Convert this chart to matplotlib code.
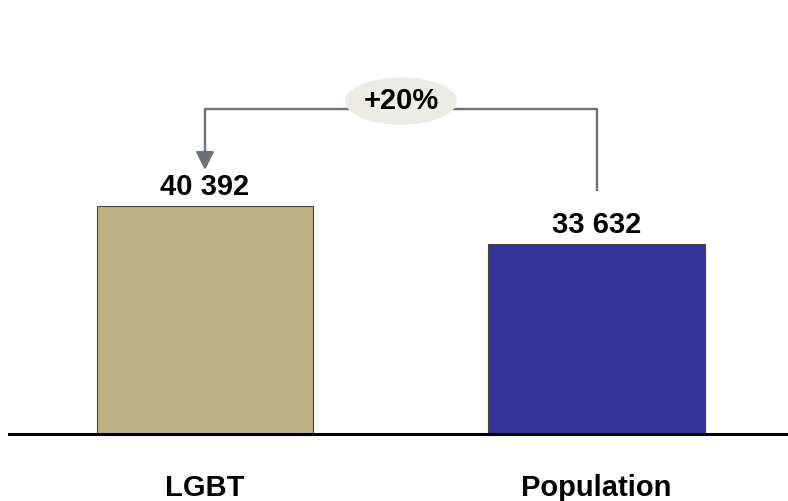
import matplotlib.pyplot as plt
from matplotlib.patches import Ellipse

categories = ['LGBT', 'Population']
values = [40392, 33632]
bar_colors = ['#BDB283', '#333399']
change_label = '+20%'

plt.rcParams['font.family'] = ['Liberation Sans', 'DejaVu Sans']

fig = plt.figure(figsize=(7.88, 5.01), dpi=100)
ax = fig.add_axes([9 / 788, 67 / 501, 1 - 9 / 788, 434 / 501])

x = list(range(len(categories)))
ax.bar(x, values, width=0.552, color=bar_colors, edgecolor='#444444', linewidth=0.8, zorder=2)

ax.set_xlim(-0.5006, 1.489)
ax.set_ylim(0, 76900)

for s in ['top', 'right', 'left']:
    ax.spines[s].set_visible(False)
ax.spines['bottom'].set_linewidth(2.2)
ax.spines['bottom'].set_zorder(3)
ax.set_yticks([])
ax.set_xticks([])

# value labels and category labels
for xi, v, c in zip(x, values, categories):
    ax.annotate(f'{v:,}'.replace(',', ' '), xy=(xi, v), xytext=(0, 8), textcoords='offset points',
                ha='center', va='baseline', fontsize=21, fontweight='bold')
    ax.annotate(c, xy=(xi, 0), xytext=(0, -44.6), textcoords='offset points',
                ha='center', va='baseline', fontsize=21, fontweight='bold', annotation_clip=False)

# bracket with arrow
line_c = '#6B7079'
top_y = 57600
tip_y = 46770
end_y = 43050
ax.plot([x[1], x[1], x[0]], [end_y, top_y, top_y], color=line_c, lw=1.7, zorder=1, solid_capstyle='butt')
ax.annotate('', xy=(x[0], tip_y), xytext=(x[0], top_y),
            arrowprops=dict(arrowstyle='-|>,head_length=1.1,head_width=0.55', color=line_c, lw=1.7,
                            shrinkA=0, shrinkB=0, mutation_scale=10))

ax.add_patch(Ellipse((0.5006, 59000), 0.286, 8330, facecolor='#EDEBE6', edgecolor='none', zorder=4))
ax.text(0.5006, 59000, change_label, ha='center', va='center', fontsize=21, fontweight='bold', zorder=5)

fig.savefig('out.png', dpi=100)
